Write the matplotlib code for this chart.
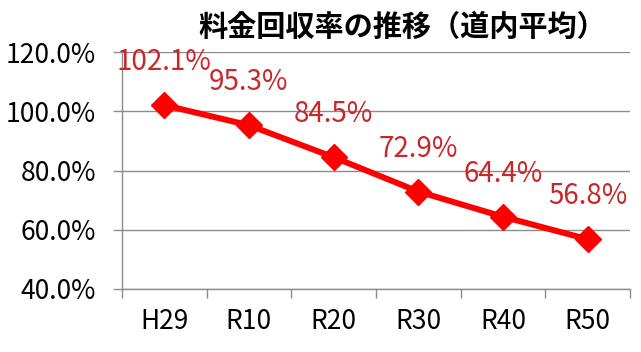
import numpy as np
import matplotlib.pyplot as plt
from matplotlib.ticker import FixedLocator, FuncFormatter

plt.rcParams['font.family'] = ['Noto Sans CJK JP', 'DejaVu Sans']

years = ['H29', 'R10', 'R20', 'R30', 'R40', 'R50']
rates = [102.1, 95.3, 84.5, 72.9, 64.4, 56.8]
yticks = [40, 60, 80, 100, 120]
title = '料金回収率の推移（道内平均）'

fig = plt.figure(figsize=(6.41, 3.52), dpi=100)
ax = fig.add_axes([0.19, 0.179, 0.793, 0.673])

x = np.arange(len(years))
ax.plot(x, rates, color='#ff0000', linewidth=4.3, marker='D', markersize=13,
        zorder=3, clip_on=False)

for xi, v in zip(x, rates):
    ax.annotate(f'{v:.1f}%', (xi, v), xytext=(0, 31), textcoords='offset points',
                ha='center', va='center', color='#c8282a', fontsize=20)

ax.set_xlim(-0.5, len(years) - 0.5)
ax.set_ylim(40, 120)
ax.set_yticks(yticks)
ax.yaxis.set_major_formatter(FuncFormatter(lambda v, p: f'{v:.1f}%'))
ax.grid(axis='y', color='#8c8c8c', linewidth=1)
ax.set_axisbelow(True)

ax.set_xticks(x)
ax.set_xticklabels(years)
ax.xaxis.set_minor_locator(FixedLocator(np.arange(-0.5, len(years), 1.0)))
ax.tick_params(axis='x', which='major', length=0, pad=14, labelsize=19)
ax.tick_params(axis='x', which='minor', length=6.5, color='#8c8c8c', width=1)
ax.tick_params(axis='y', length=6.5, color='#8c8c8c', width=1, labelsize=19, pad=12)

for s in ['top', 'right']:
    ax.spines[s].set_visible(False)
for s in ['left', 'bottom']:
    ax.spines[s].set_color('#8c8c8c')
    ax.spines[s].set_linewidth(1)
ax.spines['left'].set_bounds(40, 120)

fig.text(0.627, 0.925, title, ha='center', va='center', fontsize=21,
         fontweight='bold', color='black')

fig.savefig('out.png', dpi=100)
